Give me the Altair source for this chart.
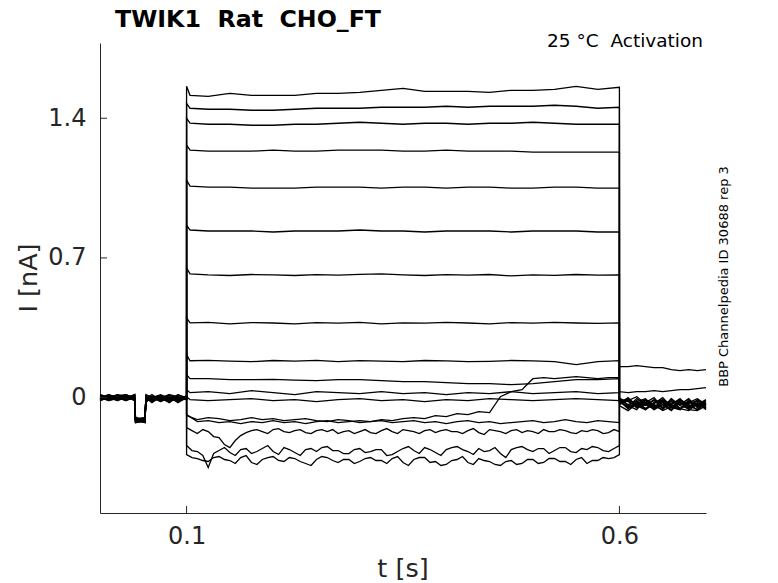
import altair as alt
import pandas as pd

# ---------------- time grids (s) ----------------
PRE_T = [0.0, 0.01, 0.02, 0.03, 0.04, 0.041, 0.052, 0.053, 0.06, 0.07, 0.08, 0.09, 0.1]
COARSE_T = [0.1, 0.104, 0.125, 0.15, 0.175, 0.2, 0.225, 0.25, 0.275, 0.3, 0.325,
            0.35, 0.375, 0.4, 0.425, 0.45, 0.475, 0.5, 0.525, 0.55, 0.575, 0.6]
FINE_T = [0.1, 0.1125, 0.125, 0.1375, 0.15, 0.1625, 0.175, 0.1875, 0.2, 0.2125,
          0.225, 0.2375, 0.25, 0.2625, 0.275, 0.2875, 0.3, 0.3125, 0.325, 0.3375,
          0.35, 0.3625, 0.375, 0.3875, 0.4, 0.4125, 0.425, 0.4375, 0.45, 0.4625,
          0.475, 0.4875, 0.5, 0.5125, 0.525, 0.5375, 0.55, 0.5625, 0.575, 0.5875, 0.6]
DENSE_T = [0.1, 0.10625, 0.1125, 0.11875, 0.125, 0.13125, 0.1375, 0.14375, 0.15, 0.15625,
           0.1625, 0.16875, 0.175, 0.18125, 0.1875, 0.19375, 0.2, 0.20625, 0.2125, 0.21875,
           0.225, 0.23125, 0.2375, 0.24375, 0.25, 0.25625, 0.2625, 0.26875, 0.275, 0.28125,
           0.2875, 0.29375, 0.3, 0.30625, 0.3125, 0.31875, 0.325, 0.33125, 0.3375, 0.34375,
           0.35, 0.35625, 0.3625, 0.36875, 0.375, 0.38125, 0.3875, 0.39375, 0.4, 0.40625,
           0.4125, 0.41875, 0.425, 0.43125, 0.4375, 0.44375, 0.45, 0.45625, 0.4625, 0.46875,
           0.475, 0.48125, 0.4875, 0.49375, 0.5, 0.50625, 0.5125, 0.51875, 0.525, 0.53125,
           0.5375, 0.54375, 0.55, 0.55625, 0.5625, 0.56875, 0.575, 0.58125, 0.5875, 0.59375, 0.6]
POST_T = [0.6, 0.61, 0.62, 0.63, 0.64, 0.65, 0.66, 0.67, 0.68, 0.69, 0.7]

# ---------------- step currents (nA) ----------------
T1_STEP = [1.56, 1.515, 1.51, 1.525, 1.515, 1.515, 1.515, 1.525, 1.525, 1.53, 1.54,
           1.55, 1.535, 1.535, 1.535, 1.53, 1.54, 1.54, 1.545, 1.56, 1.545, 1.555]
T2_STEP = [1.475, 1.45, 1.445, 1.445, 1.44, 1.44, 1.445, 1.45, 1.45, 1.45, 1.455,
           1.455, 1.455, 1.46, 1.455, 1.46, 1.46, 1.46, 1.465, 1.46, 1.45, 1.455]
T3_STEP = [1.4, 1.375, 1.37, 1.37, 1.365, 1.365, 1.37, 1.37, 1.375, 1.38, 1.375,
           1.37, 1.375, 1.375, 1.37, 1.375, 1.375, 1.38, 1.375, 1.37, 1.37, 1.37]
T4_STEP = [1.265, 1.24, 1.235, 1.235, 1.235, 1.24, 1.235, 1.235, 1.24, 1.24, 1.24,
           1.235, 1.235, 1.24, 1.235, 1.235, 1.235, 1.23, 1.23, 1.23, 1.23, 1.23]
T5_STEP = [1.09, 1.06, 1.055, 1.055, 1.05, 1.05, 1.05, 1.055, 1.055, 1.055, 1.05,
           1.055, 1.055, 1.05, 1.055, 1.055, 1.05, 1.05, 1.055, 1.055, 1.05, 1.05]
T6_STEP = [0.865, 0.84, 0.835, 0.835, 0.835, 0.83, 0.835, 0.835, 0.835, 0.84, 0.835,
           0.835, 0.83, 0.835, 0.835, 0.835, 0.83, 0.835, 0.835, 0.835, 0.83, 0.83]
T7_STEP = [0.65, 0.62, 0.615, 0.612, 0.617, 0.615, 0.612, 0.616, 0.614, 0.618, 0.62,
           0.615, 0.612, 0.616, 0.614, 0.617, 0.61, 0.615, 0.613, 0.617, 0.614, 0.615]
T8_STEP = [0.4, 0.375, 0.377, 0.37, 0.376, 0.374, 0.37, 0.376, 0.373, 0.377, 0.37,
           0.375, 0.373, 0.377, 0.374, 0.37, 0.376, 0.373, 0.377, 0.374, 0.372, 0.375]
T9_STEP = [0.215, 0.185, 0.187, 0.183, 0.18, 0.186, 0.183, 0.187, 0.18, 0.185, 0.183,
           0.18, 0.186, 0.184, 0.18, 0.182, 0.186, 0.184, 0.18, 0.165, 0.18, 0.185]
T10_STEP = [0.115, 0.095, 0.095, 0.09, 0.09, 0.092, 0.088, 0.085, 0.09, 0.09, 0.085,
            0.08, 0.08, 0.075, 0.07, 0.07, 0.065, 0.07, 0.08, 0.09, 0.09, 0.095]
T11_STEP = [0.04, 0.025, 0.03, 0.02, 0.035, 0.025, 0.015, 0.03, 0.025, 0.02, 0.03,
            0.02, 0.025, 0.015, 0.025, 0.02, 0.03, 0.02, 0.025, 0.03, 0.02, 0.025]
T12_STEP = [0.005, -0.01, -0.015, -0.01, -0.005, -0.015, -0.01, -0.02, -0.01, -0.005, -0.015,
            -0.01, -0.02, -0.01, -0.015, -0.005, -0.01, -0.015, -0.01, -0.005, -0.01, -0.015]
TD_STEP = [-0.085, -0.12, -0.115, -0.125, -0.12, -0.13, -0.12, -0.125, -0.115, -0.125,
           -0.12, -0.13, -0.12, -0.115, -0.125, -0.12, -0.115, -0.12, -0.11, -0.115,
           -0.105, -0.1, -0.105, -0.09, -0.095, -0.08, -0.085, -0.07, -0.075, 0.005,
           0.03, 0.04, 0.095, 0.1, 0.095, 0.1, 0.105, 0.1, 0.095, 0.1, 0.1]
TA_STEP = [-0.09, -0.11, -0.1, -0.105, -0.115, -0.11, -0.1, -0.11, -0.105, -0.115,
           -0.11, -0.105, -0.115, -0.12, -0.11, -0.115, -0.125, -0.12, -0.115, -0.125,
           -0.12, -0.115, -0.125, -0.12, -0.13, -0.12, -0.115, -0.125, -0.12, -0.13,
           -0.125, -0.12, -0.115, -0.125, -0.12, -0.11, -0.12, -0.125, -0.115, -0.12, -0.125]
TB_STEP = [-0.15, -0.165, -0.18, -0.16, -0.17, -0.195, -0.2, -0.235, -0.25, -0.215,
           -0.19, -0.175, -0.165, -0.16, -0.17, -0.18, -0.16, -0.155, -0.17, -0.175,
           -0.165, -0.16, -0.175, -0.18, -0.165, -0.16, -0.17, -0.16, -0.18, -0.17,
           -0.165, -0.18, -0.17, -0.16, -0.175, -0.18, -0.165, -0.155, -0.17, -0.18,
           -0.16, -0.165, -0.17, -0.18, -0.165, -0.16, -0.175, -0.165, -0.16, -0.17,
           -0.17, -0.18, -0.165, -0.155, -0.175, -0.185, -0.16, -0.165, -0.17, -0.18,
           -0.165, -0.16, -0.175, -0.165, -0.17, -0.18, -0.16, -0.17, -0.17, -0.16,
           -0.165, -0.175, -0.18, -0.165, -0.17, -0.16, -0.165, -0.18, -0.175, -0.16, -0.17]
TC_STEP = [-0.24, -0.265, -0.27, -0.29, -0.35, -0.28, -0.265, -0.25, -0.275, -0.29,
           -0.26, -0.255, -0.28, -0.27, -0.255, -0.24, -0.27, -0.285, -0.25, -0.26,
           -0.275, -0.29, -0.26, -0.255, -0.27, -0.25, -0.245, -0.265, -0.265, -0.28,
           -0.28, -0.26, -0.255, -0.275, -0.27, -0.26, -0.26, -0.29, -0.285, -0.27,
           -0.255, -0.245, -0.265, -0.28, -0.25, -0.26, -0.275, -0.29, -0.26, -0.25,
           -0.245, -0.26, -0.27, -0.285, -0.255, -0.27, -0.265, -0.25, -0.28, -0.3,
           -0.26, -0.25, -0.245, -0.26, -0.27, -0.255, -0.255, -0.28, -0.265, -0.25,
           -0.25, -0.27, -0.275, -0.255, -0.26, -0.245, -0.25, -0.265, -0.27, -0.255, -0.24]
TE_STEP = [-0.285, -0.3, -0.305, -0.315, -0.32, -0.3, -0.295, -0.31, -0.315, -0.33,
           -0.3, -0.29, -0.325, -0.335, -0.31, -0.3, -0.295, -0.315, -0.32, -0.3,
           -0.305, -0.32, -0.33, -0.34, -0.31, -0.295, -0.3, -0.315, -0.325, -0.31,
           -0.31, -0.33, -0.32, -0.305, -0.3, -0.315, -0.315, -0.33, -0.305, -0.295,
           -0.325, -0.34, -0.31, -0.3, -0.3, -0.325, -0.32, -0.34, -0.335, -0.315,
           -0.31, -0.295, -0.325, -0.335, -0.305, -0.315, -0.32, -0.335, -0.34, -0.32,
           -0.315, -0.335, -0.33, -0.31, -0.31, -0.33, -0.325, -0.305, -0.305, -0.32,
           -0.32, -0.335, -0.31, -0.3, -0.33, -0.315, -0.315, -0.3, -0.305, -0.3, -0.285]

# ---------------- holding current before the step (nA) ----------------
T1_PRE = [0.01, -0.005, 0.0, 0.015, 0.0, -0.11, -0.105, 0.0, -0.015, 0.01, 0.0, -0.01, 0.0]
T2_PRE = [-0.01, 0.01, -0.015, 0.0, 0.01, -0.115, -0.11, -0.01, 0.0, -0.015, 0.01, 0.0, 0.005]
T3_PRE = [0.0, 0.015, 0.0, -0.01, -0.005, -0.1, -0.12, 0.01, 0.005, 0.0, -0.015, 0.015, -0.005]
T4_PRE = [0.015, 0.0, 0.01, -0.015, 0.0, -0.12, -0.115, -0.015, 0.0, 0.015, -0.005, -0.015, 0.0]
T5_PRE = [-0.015, 0.0, 0.015, 0.005, -0.015, -0.105, -0.1, 0.0, -0.02, 0.0, 0.015, 0.005, -0.01]
T6_PRE = [0.0, -0.015, -0.005, 0.0, 0.015, -0.11, -0.125, 0.015, 0.0, -0.005, -0.02, 0.0, 0.005]
T7_PRE = [0.005, 0.0, -0.01, 0.015, -0.005, -0.115, -0.105, -0.005, 0.015, -0.015, 0.0, -0.02, 0.0]
T8_PRE = [-0.01, 0.015, 0.0, -0.015, 0.01, -0.12, -0.11, 0.0, -0.01, 0.005, -0.015, 0.0, -0.01]
T9_PRE = [0.0, -0.01, 0.015, 0.0, -0.005, -0.1, -0.115, -0.02, 0.005, -0.015, 0.005, -0.025, 0.0]
T10_PRE = [0.015, 0.0, -0.015, 0.005, 0.0, -0.125, -0.12, 0.005, -0.015, 0.0, -0.025, 0.005, -0.005]
T11_PRE = [-0.005, 0.01, 0.0, -0.01, 0.015, -0.105, -0.11, -0.015, 0.0, -0.02, 0.0, -0.015, 0.005]
T12_PRE = [0.0, 0.0, 0.01, 0.015, -0.015, -0.11, -0.1, 0.0, -0.025, 0.005, -0.015, 0.0, -0.01]
TD_PRE = [0.005, -0.015, 0.0, 0.0, 0.01, -0.115, -0.12, -0.005, 0.0, -0.01, 0.015, -0.02, 0.0]
TA_PRE = [-0.015, 0.005, 0.01, -0.01, 0.0, -0.12, -0.105, 0.0, -0.015, 0.0, -0.005, 0.0, -0.005]
TB_PRE = [0.0, -0.01, -0.005, 0.01, -0.01, -0.1, -0.11, -0.025, 0.005, -0.02, 0.0, -0.01, 0.01]
TC_PRE = [0.01, 0.0, 0.0, -0.015, 0.015, -0.11, -0.125, 0.005, -0.01, 0.0, -0.015, 0.015, 0.0]
TE_PRE = [-0.005, 0.015, -0.01, 0.0, 0.0, -0.125, -0.115, -0.015, 0.0, 0.01, -0.01, -0.015, -0.005]

# ---------------- tail currents after the step (nA) ----------------
T1_POST = [-0.02, -0.045, -0.005, -0.035, -0.055, -0.015, -0.04, -0.06, -0.01, -0.045, -0.02]
T2_POST = [-0.01, -0.05, -0.02, -0.06, -0.03, 0.0, -0.045, -0.025, -0.055, -0.03, -0.05]
T3_POST = [-0.03, 0.0, -0.04, -0.015, -0.06, -0.02, -0.05, -0.01, -0.035, -0.06, -0.025]
T4_POST = [0.0, -0.04, -0.06, -0.01, -0.035, -0.05, -0.005, -0.055, -0.03, -0.015, -0.055]
T5_POST = [-0.02, -0.005, -0.045, -0.025, 0.0, -0.05, -0.03, -0.01, -0.05, -0.035, -0.01]
T6_POST = [-0.015, -0.055, -0.02, -0.005, -0.045, -0.025, -0.06, -0.015, -0.04, -0.06, -0.03]
T7_POST = [-0.025, -0.01, -0.05, -0.035, -0.015, -0.055, -0.005, -0.04, -0.055, -0.01, -0.04]
T8_POST = [-0.01, -0.035, -0.015, -0.055, -0.025, -0.01, -0.045, -0.06, -0.02, -0.04, -0.015]
T9_POST = [-0.005, -0.02, -0.04, -0.01, -0.05, -0.02, -0.035, -0.005, -0.05, -0.025, -0.06]
T10_POST = [-0.02, -0.05, -0.03, -0.01, -0.04, -0.06, -0.015, -0.035, -0.005, -0.05, -0.03]
T11_POST = [0.03, 0.025, 0.03, 0.03, 0.035, 0.03, 0.035, 0.04, 0.04, 0.045, 0.05]
T12_POST = [-0.03, -0.015, 0.005, -0.03, -0.05, -0.01, -0.035, -0.055, -0.025, -0.005, -0.035]
TD_POST = [0.155, 0.155, 0.16, 0.155, 0.15, 0.15, 0.14, 0.135, 0.14, 0.135, 0.14]
TA_POST = [-0.015, -0.055, -0.025, -0.04, -0.01, -0.035, -0.065, -0.02, -0.045, -0.015, -0.05]
TB_POST = [-0.025, -0.005, -0.04, -0.06, -0.025, -0.015, -0.05, -0.06, -0.02, -0.045, -0.03]
TC_POST = [-0.035, -0.015, -0.05, -0.025, -0.06, -0.035, -0.02, -0.055, -0.065, -0.03, -0.05]
TE_POST = [-0.04, -0.065, -0.03, -0.055, -0.035, -0.065, -0.045, -0.025, -0.06, -0.065, -0.04]

X_TICKS = [0.1, 0.6]
Y_TICKS = [0.0, 0.7, 1.4]

TRACES = [
    ("T1", T1_PRE, COARSE_T, T1_STEP, T1_POST),
    ("T2", T2_PRE, COARSE_T, T2_STEP, T2_POST),
    ("T3", T3_PRE, COARSE_T, T3_STEP, T3_POST),
    ("T4", T4_PRE, COARSE_T, T4_STEP, T4_POST),
    ("T5", T5_PRE, COARSE_T, T5_STEP, T5_POST),
    ("T6", T6_PRE, COARSE_T, T6_STEP, T6_POST),
    ("T7", T7_PRE, COARSE_T, T7_STEP, T7_POST),
    ("T8", T8_PRE, COARSE_T, T8_STEP, T8_POST),
    ("T9", T9_PRE, COARSE_T, T9_STEP, T9_POST),
    ("T10", T10_PRE, COARSE_T, T10_STEP, T10_POST),
    ("T11", T11_PRE, COARSE_T, T11_STEP, T11_POST),
    ("T12", T12_PRE, COARSE_T, T12_STEP, T12_POST),
    ("TD", TD_PRE, FINE_T, TD_STEP, TD_POST),
    ("TA", TA_PRE, FINE_T, TA_STEP, TA_POST),
    ("TB", TB_PRE, DENSE_T, TB_STEP, TB_POST),
    ("TC", TC_PRE, DENSE_T, TC_STEP, TC_POST),
    ("TE", TE_PRE, DENSE_T, TE_STEP, TE_POST),
]

rows = []
for name, pre, st, sv, post in TRACES:
    seq = list(zip(PRE_T, pre)) + list(zip(st, sv)) + list(zip(POST_T, post))
    for i, (t, v) in enumerate(seq):
        rows.append({"trace": name, "i": i, "t": t, "v": v})
df = pd.DataFrame(rows)

FONT = "DejaVu Sans"
AX = "#262626"
W, H = 606, 470
xscale = alt.Scale(domain=[0, 0.7], nice=False, zero=False)
yscale = alt.Scale(domain=[-0.578, 1.777], nice=False, zero=False)

lines = alt.Chart(df).mark_line(color="black", strokeWidth=1.3).encode(
    x=alt.X("t:Q", scale=xscale,
            axis=alt.Axis(values=X_TICKS, format=".1f", title=None, ticks=False,
                          grid=False, labelFontSize=24, labelFont=FONT,
                          labelColor=AX, labelPadding=11, domainColor=AX,
                          domainWidth=1)),
    y=alt.Y("v:Q", scale=yscale,
            axis=alt.Axis(values=Y_TICKS, title=None, ticks=False, grid=False,
                          labelExpr="datum.value == 0 ? '0' : format(datum.value, '.1f')",
                          labelFontSize=24, labelFont=FONT, labelColor=AX,
                          labelPadding=14, domainColor=AX, domainWidth=1)),
    detail="trace:N",
    order="i:Q",
)

xticks = alt.Chart(pd.DataFrame({"t": X_TICKS})).mark_rule(color=AX, strokeWidth=1).encode(
    x=alt.X("t:Q", scale=xscale), y=alt.value(H), y2=alt.value(H - 7))
yticks = alt.Chart(pd.DataFrame({"v": Y_TICKS})).mark_rule(color=AX, strokeWidth=1).encode(
    y=alt.Y("v:Q", scale=yscale), x=alt.value(0), x2=alt.value(7))


def label(text, x, y, size, **kw):
    return alt.Chart(pd.DataFrame({"s": [text]})).mark_text(
        font=FONT, fontSize=size, **kw).encode(text="s:N", x=alt.value(x), y=alt.value(y))


NB = "\u00a0"
title = label("TWIK1" + NB + NB + "Rat" + NB + NB + "CHO_FT", 15, -16.5, 23.7,
              fontWeight="bold", align="left", baseline="alphabetic", color="black")
cond = label("25" + NB + "°C" + NB + NB + "Activation", 603, 4.3, 18.5, align="right",
             baseline="alphabetic", color="black")
side = label("BBP Channelpedia ID 30688 rep 3", 627.5, 233.5, 13, angle=270,
             align="center", baseline="alphabetic", color="black")
xtitle = label("t [s]", 303, 533.5, 25.5, align="center", baseline="alphabetic", color=AX)
ytitle = label("I [nA]", -63.3, 235, 25.5, angle=270, align="center",
               baseline="alphabetic", color=AX)

chart = alt.layer(lines, xticks, yticks, title, cond, side, xtitle, ytitle).properties(
    width=W, height=H,
    autosize=alt.AutoSizeParams(type="none"),
    padding={"left": 92, "top": 35, "right": 64, "bottom": 68},
).configure_view(strokeWidth=0)

chart.save("out.html", embed_options={"renderer": "svg", "actions": False})
